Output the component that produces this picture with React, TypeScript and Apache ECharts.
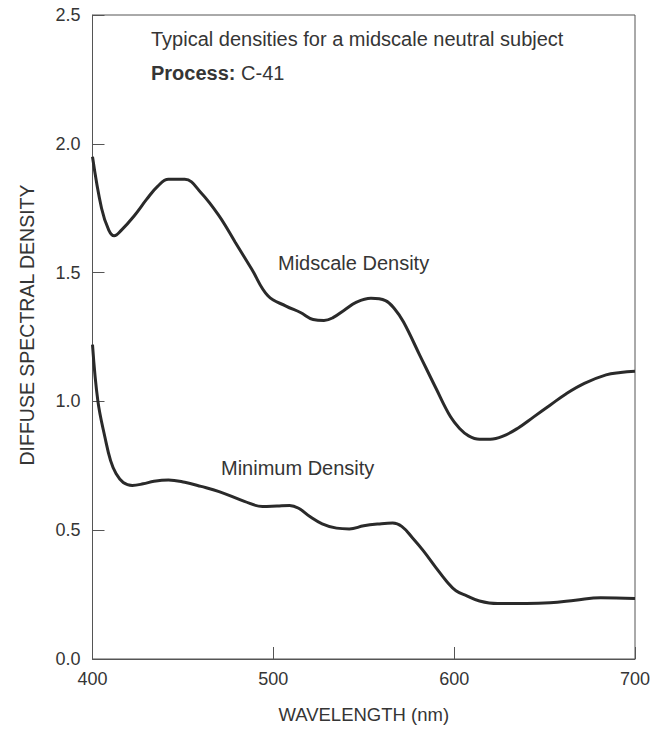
import React, { useEffect, useRef } from "react";
import * as echarts from "echarts";

const xTicks = [400, 500, 600, 700];
const yTicks = [0, 0.5, 1.0, 1.5, 2.0, 2.5];

const midscaleWavelength = [400, 405, 409, 412, 416, 423, 430, 436, 442, 451, 460, 470, 479, 488, 497, 507, 515, 522, 528, 533, 539, 546, 554, 562, 567, 572, 581, 590, 598, 603, 608, 614, 620, 627, 635, 644, 653, 662, 672, 684, 692, 700];
const midscaleDensity = [1.95, 1.75, 1.665, 1.643, 1.665, 1.72, 1.785, 1.835, 1.862, 1.862, 1.81, 1.72, 1.617, 1.514, 1.41, 1.37, 1.345, 1.318, 1.314, 1.325, 1.353, 1.385, 1.4, 1.391, 1.36, 1.308, 1.179, 1.05, 0.94, 0.895, 0.866, 0.853, 0.853, 0.865, 0.895, 0.94, 0.985, 1.03, 1.07, 1.103, 1.112, 1.117];

const minimumWavelength = [400, 403, 407, 410, 413, 417, 422, 428, 434, 442, 451, 460, 470, 484, 494, 502, 509, 514, 520, 527, 535, 542, 550, 558, 566, 571, 577, 583, 590, 596, 601, 607, 614, 624, 640, 653, 667, 681, 700];
const minimumDensity = [1.22, 1.0, 0.857, 0.77, 0.72, 0.685, 0.674, 0.68, 0.69, 0.695, 0.686, 0.67, 0.65, 0.612, 0.592, 0.594, 0.596, 0.585, 0.554, 0.525, 0.508, 0.505, 0.517, 0.524, 0.528, 0.515, 0.47, 0.42, 0.354, 0.3, 0.265, 0.245, 0.225, 0.215, 0.215, 0.218, 0.228, 0.238, 0.235];

const titleText = "Typical densities for a midscale neutral subject";
const processLabel = "Process:";
const processValue = " C-41";
const midscaleLabel = "Midscale Density";
const minimumLabel = "Minimum Density";
const xName = "WAVELENGTH (nm)";
const yName = "DIFFUSE SPECTRAL DENSITY";

const FONT = "'Liberation Sans', Arial, Helvetica, sans-serif";
const TEXT = "#353535";
const LINE = "#2a2a2a";

export default function App() {
  const ref = useRef<HTMLDivElement>(null);
  useEffect(() => {
    if (!ref.current) return;
    const chart = echarts.init(ref.current, undefined, { renderer: "svg" });
    const zip = (xs: number[], ys: number[]) => xs.map((x, i) => [x, ys[i]]);
    chart.setOption({
      animation: false,
      backgroundColor: "#ffffff",
      textStyle: { fontFamily: FONT },
      grid: {
        left: 92.5,
        top: 15,
        right: 34,
        bottom: 67.5,
        show: true,
        borderColor: "#555",
        borderWidth: 1,
        containLabel: false,
      },
      xAxis: {
        type: "value",
        min: xTicks[0],
        max: xTicks[xTicks.length - 1],
        interval: 100,
        name: xName,
        nameLocation: "middle",
        nameGap: 46,
        nameTextStyle: { fontSize: 18.5, color: TEXT, fontFamily: FONT },
        axisLine: { show: true, lineStyle: { color: "#555", width: 1 } },
        axisTick: { show: true, inside: true, length: 12, lineStyle: { color: "#555", width: 1 } },
        axisLabel: { fontSize: 18, color: TEXT, margin: 11, fontFamily: FONT },
        splitLine: { show: false },
      },
      yAxis: {
        type: "value",
        min: yTicks[0],
        max: yTicks[yTicks.length - 1],
        interval: 0.5,
        name: "",
        axisLine: { show: true, lineStyle: { color: "#555", width: 1 } },
        axisTick: { show: true, inside: true, length: 12, lineStyle: { color: "#555", width: 1 } },
        axisLabel: {
          fontSize: 18,
          color: TEXT,
          margin: 12,
          fontFamily: FONT,
          formatter: (v: number) => v.toFixed(1),
        },
        splitLine: { show: false },
      },
      series: [
        {
          name: midscaleLabel,
          type: "line",
          data: zip(midscaleWavelength, midscaleDensity),
          smooth: 0.4,
          showSymbol: false,
          lineStyle: { color: LINE, width: 3 },
        },
        {
          name: minimumLabel,
          type: "line",
          data: zip(minimumWavelength, minimumDensity),
          smooth: 0.4,
          showSymbol: false,
          lineStyle: { color: LINE, width: 3 },
        },
      ],
      graphic: [
        {
          type: "text",
          x: 27,
          y: 325,
          rotation: Math.PI / 2,
          style: {
            text: yName,
            fontSize: 19.5,
            fill: TEXT,
            fontFamily: FONT,
            align: "center",
            verticalAlign: "middle",
          },
        },
        {
          type: "text",
          left: 151,
          top: 29,
          style: { text: titleText, fontSize: 20, fill: TEXT, fontFamily: FONT },
        },
        {
          type: "text",
          left: 151,
          top: 63,
          style: {
            text: "{b|" + processLabel + "}" + processValue,
            fontSize: 20,
            fill: TEXT,
            fontFamily: FONT,
            rich: { b: { fontWeight: "bold", fontSize: 20, fill: TEXT, fontFamily: FONT } },
          },
        },
        {
          type: "text",
          left: 278,
          top: 253,
          style: { text: midscaleLabel, fontSize: 20, fill: TEXT, fontFamily: FONT },
        },
        {
          type: "text",
          left: 221,
          top: 458,
          style: { text: minimumLabel, fontSize: 20, fill: TEXT, fontFamily: FONT },
        },
      ],
    });
    return () => chart.dispose();
  }, []);
  return <div ref={ref} style={{ width: 669, height: 729, position: "absolute", left: 0, top: 0 }} />;
}
